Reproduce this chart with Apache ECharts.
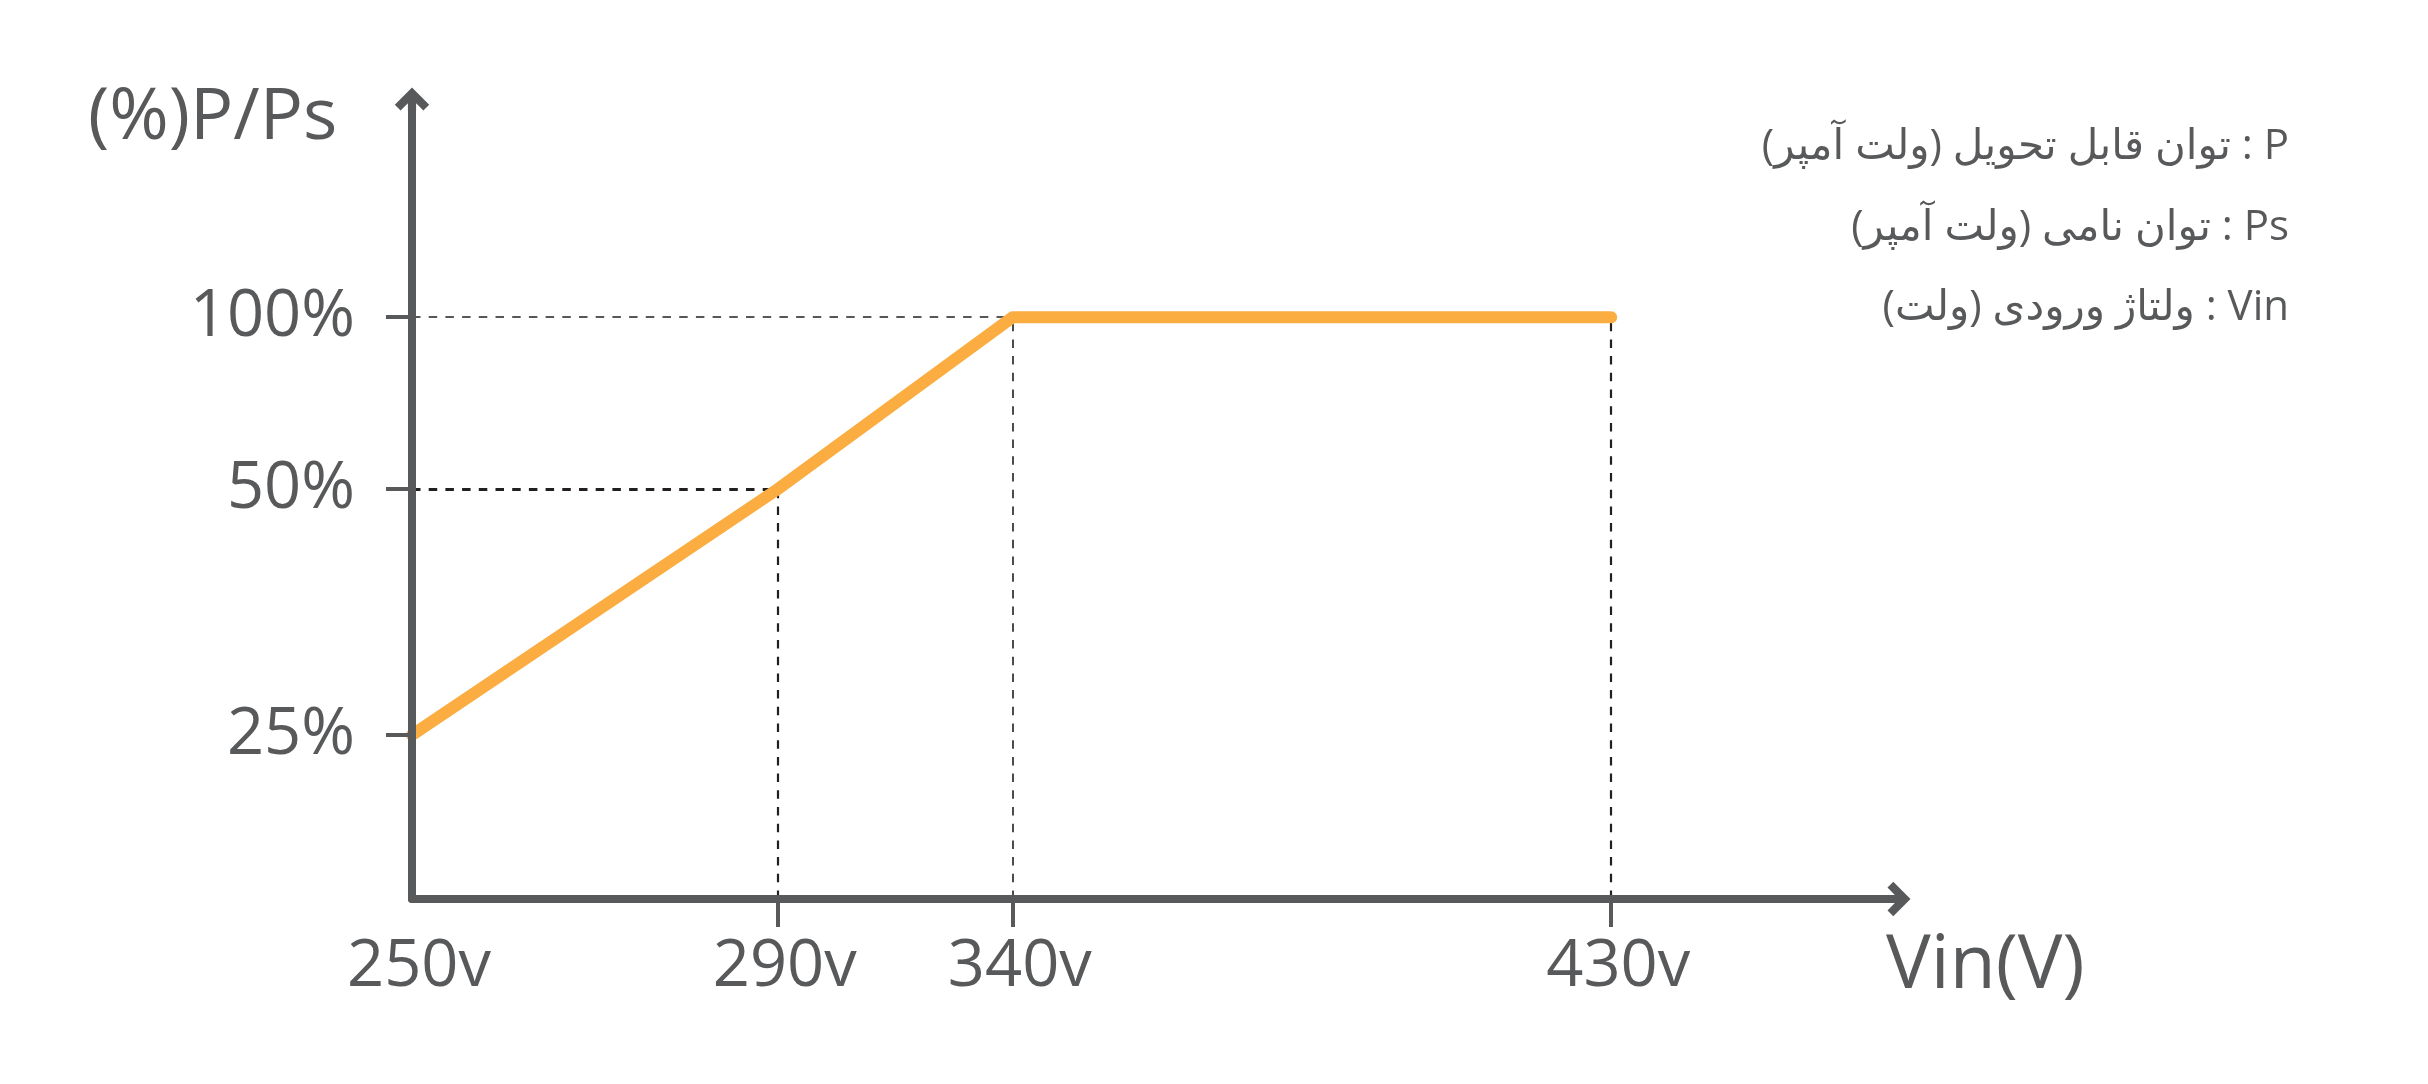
<!DOCTYPE html>
<html>
<head>
<meta charset="utf-8">
<script src="https://cdn.jsdelivr.net/npm/echarts@6/dist/echarts.min.js"></script>
<style>
  html, body { margin: 0; padding: 0; background: #ffffff; }
  #chart { width: 2428px; height: 1084px; }
</style>
</head>
<body>
<div id="chart"></div>
<script>
// ---- Data ----
const voltages      = [250, 290, 340, 430];          // Vin (V)
const voltageLabels = ['250v', '290v', '340v', '430v'];
const powerPct      = [25, 50, 100, 100];            // P/Ps (%)
const pctTicks      = [25, 50, 100];
const pctLabels     = ['25%', '50%', '100%'];
const legendLines   = [
  'توان قابل تحویل (ولت آمپر) : P',
  'توان نامی (ولت آمپر) : Ps',
  'ولتاژ ورودی (ولت) : Vin'
];
const xName = 'Vin(V)';
const yName = '(%)P/Ps';

// ---- Schematic (non-uniform) axis scales of the original drawing ----
// Each tick value maps to a relative place on its axis; 1 = last tick.
const xScaleStops = { 250: 0, 290: 0.305, 340: 0.501, 430: 1 };
const yScaleStops = { 25: 0.2818, 50: 0.7045, 100: 1 };
const X_MAX = 1.24, Y_MAX = 1.375;
const xPos = v => xScaleStops[v];
const yPos = p => yScaleStops[p];

const GRAY = '#58595B';
const ORANGE = '#FBAD41';
const DASH = '#231F20';
const FONT = '"Open Sans", "Noto Sans", "DejaVu Sans", sans-serif';

const lineData = voltages.map((v, i) => [xPos(v), yPos(powerPct[i])]);

function labelFor(stops, keys, labels, value) {
  for (let i = 0; i < keys.length; i++) {
    if (Math.abs(stops[keys[i]] - value) < 1e-6) return labels[i];
  }
  return '';
}

// guide (dashed) lines from the marked points to the axes
const guides = [];
// horizontal guides: 50% at 290v (bolder), 100% at 340v
guides.push([{ coord: [0, yPos(powerPct[1])], lineStyle: { width: 3 } }, { coord: [xPos(voltages[1]), yPos(powerPct[1])] }]);
guides.push([{ coord: [0, yPos(powerPct[2])], lineStyle: { width: 1.6 } }, { coord: [xPos(voltages[2]), yPos(powerPct[2])] }]);
// vertical guides: 290v, 340v, 430v
guides.push([{ coord: [xPos(voltages[1]), 0], lineStyle: { width: 2.2 } }, { coord: [xPos(voltages[1]), yPos(powerPct[1])] }]);
guides.push([{ coord: [xPos(voltages[2]), 0], lineStyle: { width: 1.6 } }, { coord: [xPos(voltages[2]), yPos(powerPct[2])] }]);
guides.push([{ coord: [xPos(voltages[3]), 0], lineStyle: { width: 2.2 } }, { coord: [xPos(voltages[3]), yPos(powerPct[3])] }]);

// open chevron arrow head (points up), with a short shaft
const ARROW = 'path://M16.83,0 L33.66,16.83 L28,22.49 L20.83,15.32 L20.83,22.49 L12.83,22.49 L12.83,15.32 L5.66,22.49 L0,16.83 Z';

const chart = echarts.init(document.getElementById('chart'), null, { renderer: 'canvas' });
chart.setOption({
  backgroundColor: '#ffffff',
  animation: false,
  grid: { left: 412, right: 529, top: 99, bottom: 185, containLabel: false },
  xAxis: {
    type: 'value', min: 0, max: X_MAX, z: 5,
    splitLine: { show: false },
    axisLine: {
      show: true, symbol: ['none', ARROW], symbolSize: [35, 23],
      lineStyle: { color: GRAY, width: 8, cap: 'round' }
    },
    axisTick: {
      show: true, length: 28, customValues: voltages.slice(1).map(xPos),
      lineStyle: { color: GRAY, width: 4 }
    },
    axisLabel: {
      show: true, margin: 36, customValues: voltages.map(xPos),
      color: GRAY, fontSize: 65, fontFamily: FONT, padding: [0, 0, 0, 14],
      formatter: v => labelFor(xScaleStops, voltages, voltageLabels, v)
    }
  },
  yAxis: {
    type: 'value', min: 0, max: Y_MAX, z: 5,
    splitLine: { show: false },
    axisLine: {
      show: true, symbol: ['none', ARROW], symbolSize: [35, 23],
      lineStyle: { color: GRAY, width: 8, cap: 'round' }
    },
    axisTick: {
      show: true, length: 26, customValues: pctTicks.map(yPos),
      lineStyle: { color: GRAY, width: 4 }
    },
    axisLabel: {
      show: true, margin: 57, customValues: pctTicks.map(yPos),
      color: GRAY, fontSize: 65, fontFamily: FONT,
      formatter: v => labelFor(yScaleStops, pctTicks, pctLabels, v)
    }
  },
  series: [{
    type: 'line', data: lineData, z: 2,
    symbol: 'none', silent: true,
    lineStyle: { color: ORANGE, width: 12, cap: 'round', join: 'round' },
    markLine: {
      silent: true, symbol: ['none', 'none'], z: 1,
      label: { show: false },
      lineStyle: { color: DASH, width: 2, type: [8.5, 8.2] },
      data: guides
    }
  }],
  graphic: [
    { type: 'text', x: 88, y: 118, style: { text: yName, fill: GRAY, font: '72px ' + FONT, align: 'left', verticalAlign: 'middle' } },
    { type: 'text', x: 1886, y: 967, style: { text: xName, fill: GRAY, font: '75px ' + FONT, align: 'left', verticalAlign: 'middle' } },
    { type: 'text', x: 2289, y: 147, style: { text: legendLines[0], fill: GRAY, font: '42px ' + FONT, align: 'right', verticalAlign: 'middle' } },
    { type: 'text', x: 2289, y: 228, style: { text: legendLines[1], fill: GRAY, font: '42px ' + FONT, align: 'right', verticalAlign: 'middle' } },
    { type: 'text', x: 2289, y: 308, style: { text: legendLines[2], fill: GRAY, font: '42px ' + FONT, align: 'right', verticalAlign: 'middle' } }
  ]
});
</script>
</body>
</html>
